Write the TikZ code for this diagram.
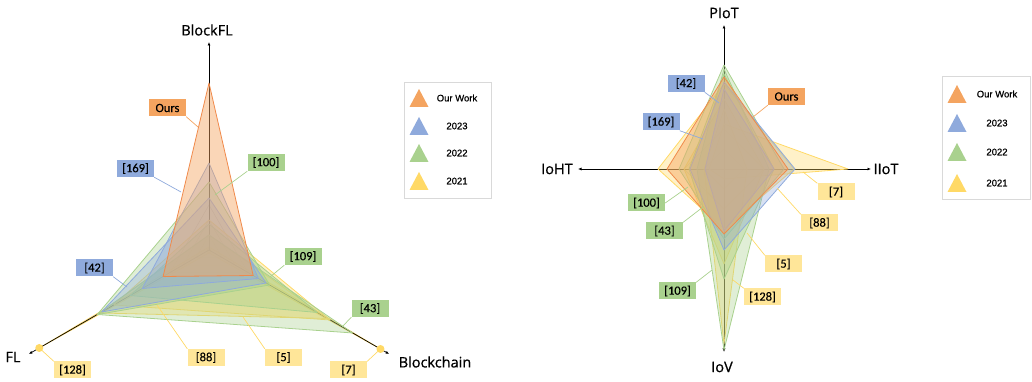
\documentclass[tikz,border=0pt]{standalone}
\usepackage{fontspec}
\newfontfamily\axisfont[FakeBold=0.7]{Open Sans}
\newfontfamily\boxfont[FakeBold=0.3]{Carlito}
\newfontfamily\legfont[FakeBold=0.6]{Liberation Sans}
\usetikzlibrary{arrows.meta}

\definecolor{cOurs}{HTML}{F4A460}
\definecolor{cOursLine}{HTML}{F08A4B}
\definecolor{cBlue}{HTML}{8FAADC}
\definecolor{cGreen}{HTML}{A9D18E}
\definecolor{cYellow}{HTML}{FFD966}
\definecolor{cYbox}{HTML}{FFE699}
\definecolor{cGrid}{HTML}{C8C8C8}
\definecolor{cFrame}{HTML}{D9D9D9}

% radar series on the three-axis chart (top, FL, Blockchain radii)
\newcommand{\triseries}[4]{\draw[#1,shift={(209pt,132pt)}] (90:#2pt) -- (210:#3pt) -- (330:#4pt) -- cycle;}
% radar series on the four-axis chart (PIoT, IIoT, IoV, IoHT radii)
\newcommand{\quadseries}[5]{\draw[#1,shift={(724pt,213pt)}] (90:#2pt) -- (0:#3pt) -- (270:#4pt) -- (180:#5pt) -- cycle;}

\tikzset{
  axisarrow/.style={line width=0.7pt, black, -{Latex[length=3.5pt,width=3pt]}},
  axlabel/.style={font=\axisfont\fontsize{14.5}{16}\selectfont, inner sep=0pt},
  tag/.style={font=\boxfont\fontsize{12.5}{14}\selectfont, minimum width=37pt,
              minimum height=17pt, inner sep=0pt, text=black},
  oursTag/.style={tag, fill=cOurs},
  blueTag/.style={tag, fill=cBlue},
  greenTag/.style={tag, fill=cGreen},
  yellowTag/.style={tag, fill=cYbox},
  lead/.style={line width=0.7pt},
  series/.style={line width=0.8pt, line join=round, fill opacity=0.36},
  oursS/.style={series, draw=cOursLine, fill=cOurs, fill opacity=0.45},
  blueS/.style={series, draw=cBlue, fill=cBlue},
  greenS/.style={series, draw=cGreen, fill=cGreen},
  yellowS/.style={series, draw=cYellow, fill=cYellow},
  gridline/.style={cGrid, line width=0.5pt},
  legtext/.style={font=\legfont\fontsize{9.5}{11}\selectfont, inner sep=0pt},
  legframe/.style={draw=cFrame, line width=0.9pt},
}

\begin{document}
\begin{tikzpicture}[x=1pt,y=1pt]
\useasboundingbox (0,0) rectangle (1032,382);

%% ---------------- three-axis chart ----------------
\coordinate (L) at (209,132);
\path (L) ++(90:208pt) coordinate (Ltop);
\path (L) ++(210:208pt) coordinate (Lfl);
\path (L) ++(330:208pt) coordinate (Lbc);

% grid
\foreach \r in {15,30,45}
  \draw[gridline,shift={(209pt,132pt)}] (90:\r pt) -- (210:\r pt) -- (330:\r pt) -- cycle;

% single-axis series lie under the axis lines
\triseries{yellowS}{3}{196}{3}
\triseries{yellowS}{3}{3}{198}

% axes
\draw[axisarrow] (L) -- (Ltop);
\draw[axisarrow] (L) -- (Lfl);
\draw[axisarrow] (L) -- (Lbc);

% series
\triseries{yellowS}{15}{126}{137}
\triseries{yellowS}{30}{110}{140}
\triseries{greenS}{68}{129}{70}
\triseries{greenS}{26}{91}{125}
\triseries{greenS}{15}{129}{166}
\triseries{blueS}{87}{77}{57}
\triseries{blueS}{52}{124}{66}
\triseries{oursS}{167}{53}{51}

% extreme points
\path (L) ++(210:196pt) coordinate (dotA);
\path (L) ++(330:198pt) coordinate (dotB);
\fill[cYellow] (dotA) circle (4pt);
\fill[cYellow] (dotB) circle (4pt);

% axis labels
\node[axlabel] (lblBlockFL) at (207,352) {BlockFL};
\node[axlabel] (lblFL) at (13,25) {FL};
\node[axlabel] (lblBC) at (435,20) {Blockchain};

% tags
\node[oursTag]   (lOurs) at (167.5,274) {Ours};
\node[blueTag]   (l169)  at (135.5,213.5) {[169]};
\node[greenTag]  (l100)  at (266,219.5) {[100]};
\node[blueTag]   (l42)   at (94.5,114) {[42]};
\node[greenTag]  (l109)  at (303,125.5) {[109]};
\node[greenTag]  (l43)   at (370,73.5) {[43]};
\node[yellowTag] (l88)   at (206,24.5) {[88]};
\node[yellowTag] (l5)    at (283.5,24.5) {[5]};
\node[yellowTag] (l128)  at (72.5,12) {[128]};
\node[yellowTag] (l7)    at (348.5,12) {[7]};

\coordinate (plOurs) at (198,255);
\coordinate (pl169) at (181,190);
\coordinate (pl100) at (215,187);
\coordinate (pl42) at (127,95);
\coordinate (pl109) at (270,105);
\coordinate (pl43) at (342,55);
\coordinate (pl88) at (157,77);
\coordinate (pl5) at (243,65);

\draw[lead,cOurs]   (lOurs.south east) -- (plOurs);
\draw[lead,cBlue]   (l169.south east) -- (pl169);
\draw[lead,cGreen]  (l100.south west) -- (pl100);
\draw[lead,cBlue]   (l42.south east) -- (pl42);
\draw[lead,cGreen]  (l109.south west) -- (pl109);
\draw[lead,cGreen]  (l43.south west) -- (pl43);
\draw[lead,cYellow] (l88.north west) -- (pl88);
\draw[lead,cYellow] (l5.north west) -- (pl5);
\draw[lead,cYellow] (l128.north west) -- (dotA);
\draw[lead,cYellow] (l7.north east) -- (dotB);

% legend
\draw[legframe] (404,184) rectangle (491,300);
\foreach \y/\c/\t [count=\i] in {284/cOurs/Our Work, 256/cBlue/2023, 229/cGreen/2022, 201/cYellow/2021}{
  \fill[\c] (409.5,\y-9) -- (428.5,\y-9) -- (419,\y+9) -- cycle;
  \node[legtext] (legL\i) at (457,\y) {\t};
}

%% ---------------- four-axis chart ----------------
\coordinate (R) at (724,213);
\coordinate (Rtop) at (724,357);
\coordinate (Rright) at (871,213);
\coordinate (Rbottom) at (724,30);
\coordinate (Rleft) at (578,213);

% grid
\foreach \r in {20,40}
  \draw[gridline,shift={(724pt,213pt)}] (90:\r pt) -- (0:\r pt) -- (270:\r pt) -- (180:\r pt) -- cycle;

% axes
\draw[axisarrow] (R) -- (Rtop);
\draw[axisarrow] (R) -- (Rright);
\draw[axisarrow] (R) -- (Rbottom);
\draw[axisarrow] (R) -- (Rleft);

% series
\quadseries{yellowS}{45}{124}{10}{15}
\quadseries{yellowS}{85}{70}{60}{66}
\quadseries{yellowS}{70}{40}{95}{40}
\quadseries{yellowS}{60}{23}{175}{20}
\quadseries{greenS}{104}{60}{70}{45}
\quadseries{greenS}{95}{50}{110}{35}
\quadseries{greenS}{100}{45}{181}{27}
\quadseries{blueS}{87}{71}{81}{34}
\quadseries{blueS}{80}{50}{62}{19}
\quadseries{oursS}{92}{64}{65}{57}

% axis labels
\node[axlabel] (lblPIoT) at (724,369) {PIoT};
\node[axlabel] (lblIoHT) at (557,213) {IoHT};
\node[axlabel] (lblIIoT) at (886,213) {IIoT};
\node[axlabel] (lblIoV)  at (722,15) {IoV};

% tags
\node[blueTag]   (r42)   at (686,298.5) {[42]};
\node[oursTag]   (rOurs) at (786.5,285.5) {Ours};
\node[blueTag]   (r169)  at (661,260) {[169]};
\node[yellowTag] (r7)    at (836,190) {[7]};
\node[greenTag]  (r100)  at (646.5,179) {[100]};
\node[yellowTag] (r88)   at (819.5,159) {[88]};
\node[greenTag]  (r43)   at (664.5,151) {[43]};
\node[yellowTag] (r5)    at (783.5,118) {[5]};
\node[greenTag]  (r109)  at (677.5,91) {[109]};
\node[yellowTag] (r128)  at (762.5,85) {[128]};

\coordinate (pr42) at (719,279);
\coordinate (prOurs) at (753,265);
\coordinate (pr169) at (703,243);
\coordinate (pr7) at (803,210);
\coordinate (pr100) at (688,195);
\coordinate (pr88) at (777,194);
\coordinate (pr43) at (703,175);
\coordinate (pr5) at (747,149);
\coordinate (pr109) at (712,112);
\coordinate (pr128) at (733,102);

\draw[lead,cBlue]   (r42.south east) -- (pr42);
\draw[lead,cOurs]   (rOurs.south west) -- (prOurs);
\draw[lead,cBlue]   (r169.south east) -- (pr169);
\draw[lead,cYellow] (r7.north west) -- (pr7);
\draw[lead,cGreen]  (r100.east) -- (pr100);
\draw[lead,cYellow] (r88.north west) -- (pr88);
\draw[lead,cGreen]  (r43.north east) -- (pr43);
\draw[lead,cYellow] (r5.north west) -- (pr5);
\draw[lead,cGreen]  (r109.north east) -- (pr109);
\draw[lead,cYellow] (r128.north west) -- (pr128);

% legend
\draw[legframe] (942,183) rectangle (1030,306);
\foreach \y/\c/\t [count=\i] in {288/cOurs/Our Work, 259/cBlue/2023, 230/cGreen/2022, 199/cYellow/2021}{
  \fill[\c] (947.5,\y-9) -- (966.5,\y-9) -- (957,\y+9) -- cycle;
  \node[legtext] (legR\i) at (997,\y) {\t};
}
\end{tikzpicture}
\end{document}
